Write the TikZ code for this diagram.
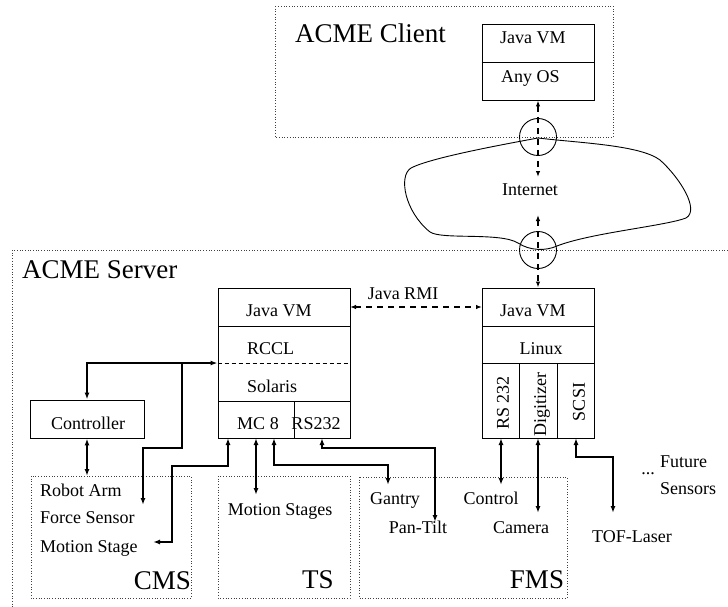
\documentclass[tikz,border=0pt]{standalone}
\usepackage{fontspec}
\setmainfont{Liberation Serif}
\usetikzlibrary{arrows.meta}
\begin{document}
\begin{tikzpicture}[x=1pt,y=-1pt,
  box/.style={draw, line width=0.9pt, inner sep=0pt},
  grp/.style={draw=black!75, dotted, line width=0.7pt},
  conn/.style={line width=1.7pt, {Latex[length=7pt,width=5pt]}-{Latex[length=7pt,width=5pt]}},
  conn1/.style={line width=1.7pt, -{Latex[length=7pt,width=5pt]}},
  dasharrow/.style={line width=1.3pt, dash pattern=on 6pt off 5pt, {Latex[length=6pt,width=4.5pt]}-{Latex[length=6pt,width=4.5pt]}},
  lbl/.style={inner sep=0pt, font=\fontsize{18}{20}\selectfont},
  big/.style={inner sep=0pt, font=\fontsize{27}{30}\selectfont}]
\useasboundingbox (0,0) rectangle (728,607);
\clip (0,0) rectangle (728,607);

% groups
\draw[grp] (275,6) rectangle (613,137);
\draw[grp] (12,250) rectangle (740,625);
\draw[grp] (31,476) rectangle (191,598);
\draw[grp] (218,476) rectangle (350,598);
\draw[grp] (359,477) rectangle (567,598);
\node[big, anchor=base west] (acmec) at (295,43) {ACME Client};
\node[big, anchor=base west] (acmes) at (22,278) {ACME Server};
\node[big, anchor=base east] (cms) at (191,589) {CMS};
\node[big, anchor=base] (ts) at (318,588) {TS};
\node[big, anchor=base] (fms) at (537,588) {FMS};

% cloud
\draw[line width=0.9pt] (538,138) .. controls (500,145) and (430,158) .. (411,168)
  .. controls (398,176) and (405,212) .. (430,232)
  .. controls (442,240) and (500,232) .. (518,243)
  .. controls (530,251) and (546,251) .. (557,246)
  .. controls (590,233) and (665,226) .. (686,218)
  .. controls (700,210) and (680,178) .. (660,160)
  .. controls (640,145) and (580,143) .. (538,138) -- cycle;
\node[draw, circle, line width=0.9pt, minimum size=37pt, inner sep=0pt] (c1) at (538,137) {};
\node[draw, circle, line width=0.9pt, minimum size=37pt, inner sep=0pt] (c2) at (538,250) {};
\node[lbl, anchor=base] (inet) at (530,195) {Internet};

% client box
\node[box, minimum width=112pt, minimum height=76pt] (cbox) at (538,62) {};
\draw[line width=0.9pt] (cbox.west) -- (cbox.east);
\node[lbl, anchor=base west] (cjava) at (500,44) {Java VM};
\node[lbl, anchor=base west] (cos) at (501,83) {Any OS};

% left server box
\node[box, minimum width=132pt, minimum height=150pt] (srvL) at (284,363) {};
\draw[line width=0.9pt] (218,326) -- (350,326);
\draw[line width=0.9pt, dash pattern=on 4pt off 3pt] (srvL.west) -- (srvL.east);
\draw[line width=0.9pt] (218,401) -- (350,401);
\draw[line width=0.9pt] (294,401) -- (294,438);
\node[lbl, anchor=base west] (ljava) at (246,316) {Java VM};
\node[lbl, anchor=base west] (rccl) at (247,354) {RCCL};
\node[lbl, anchor=base west] (sol) at (247,392) {Solaris};
\node[lbl, anchor=base] (mc8) at (258,429) {MC 8};
\node[lbl, anchor=base] (rs232a) at (316,429) {RS232};

% right server box
\node[box, minimum width=112pt, minimum height=150pt] (srvR) at (538,363) {};
\draw[line width=0.9pt] (482,326) -- (594,326);
\draw[line width=0.9pt] (srvR.west) -- (srvR.east);
\draw[line width=0.9pt] (519,363) -- (519,438);
\draw[line width=0.9pt] (557,363) -- (557,438);
\node[lbl, anchor=base west] (rjava) at (500,316) {Java VM};
\node[lbl, anchor=base] (linux) at (541,354) {Linux};
\node[lbl, rotate=90] (rs232b) at (503,403) {RS 232};
\node[lbl, rotate=90] (digi) at (542,405) {Digitizer};
\node[lbl, rotate=90] (scsi) at (579,402) {SCSI};

% controller
\node[box, minimum width=114pt, minimum height=38pt] (ctrl) at (87,419) {};
\node[lbl, anchor=base] (ctrlt) at (88,429) {Controller};

% labels
\node[lbl, anchor=base west] (robot) at (40,496) {Robot Arm};
\node[lbl, anchor=base west] (force) at (40,523) {Force Sensor};
\node[lbl, anchor=base west] (mstage) at (40,552) {Motion Stage};
\node[lbl, anchor=base] (mstages) at (280,515) {Motion Stages};
\node[lbl, anchor=base] (gantry) at (395,504) {Gantry};
\node[lbl, anchor=base] (pantilt) at (418,533) {Pan-Tilt};
\node[lbl, anchor=base] (control) at (491,504) {Control};
\node[lbl, anchor=base] (camera) at (521,533) {Camera};
\node[lbl, anchor=base] (tof) at (632,542) {TOF-Laser};
\node[lbl, anchor=base] (dots) at (648,474) {...};
\node[lbl, anchor=base west] (future) at (660,467) {Future};
\node[lbl, anchor=base west] (sensors) at (660,494) {Sensors};
\node[lbl, anchor=base] (rmi) at (403,299) {Java RMI};

% dashed connectors
\coordinate (inA) at (538,177);
\coordinate (inB) at (538,215);
\coordinate (rmiA) at (350,307);
\coordinate (rmiB) at (482,307);
\draw[dasharrow] (cbox.south) -- (inA);
\draw[dasharrow] (inB) -- (srvR.north);
\draw[dasharrow] (rmiA) -- (rmiB);

% solid connectors
\coordinate (j1) at (182,363);
\coordinate (fsA) at (143,505);
\coordinate (pA) at (228,438);
\coordinate (msA) at (153,542);
\coordinate (pB) at (256,438);
\coordinate (mssA) at (256,495);
\coordinate (pC) at (274,438);
\coordinate (gA) at (388,485);
\coordinate (pD) at (322,438);
\coordinate (ptA) at (435,522);
\coordinate (pE) at (501,438);
\coordinate (coA) at (501,485);
\coordinate (pF) at (538,438);
\coordinate (caA) at (538,513);
\coordinate (pG) at (576,438);
\coordinate (tofA) at (613,513);

\draw[conn] (ctrl.south) -- (ctrl.south |- 0,476);
\draw[conn] (ctrl.north) |- (srvL.west);
\draw[conn1] (j1) -- (182,448) -- (143,448) -- (fsA);
\draw[conn] (pA) -- (228,466) -- (172,466) -- (172,542) -- (msA);
\draw[conn] (pB) -- (mssA);
\draw[conn] (pC) -- (274,465) -| (gA);
\draw[conn] (pD) -- (322,448) -| (ptA);
\draw[conn] (pE) -- (coA);
\draw[conn] (pF) -- (caA);
\draw[conn] (pG) -- (576,457) -| (tofA);
\end{tikzpicture}
\end{document}
